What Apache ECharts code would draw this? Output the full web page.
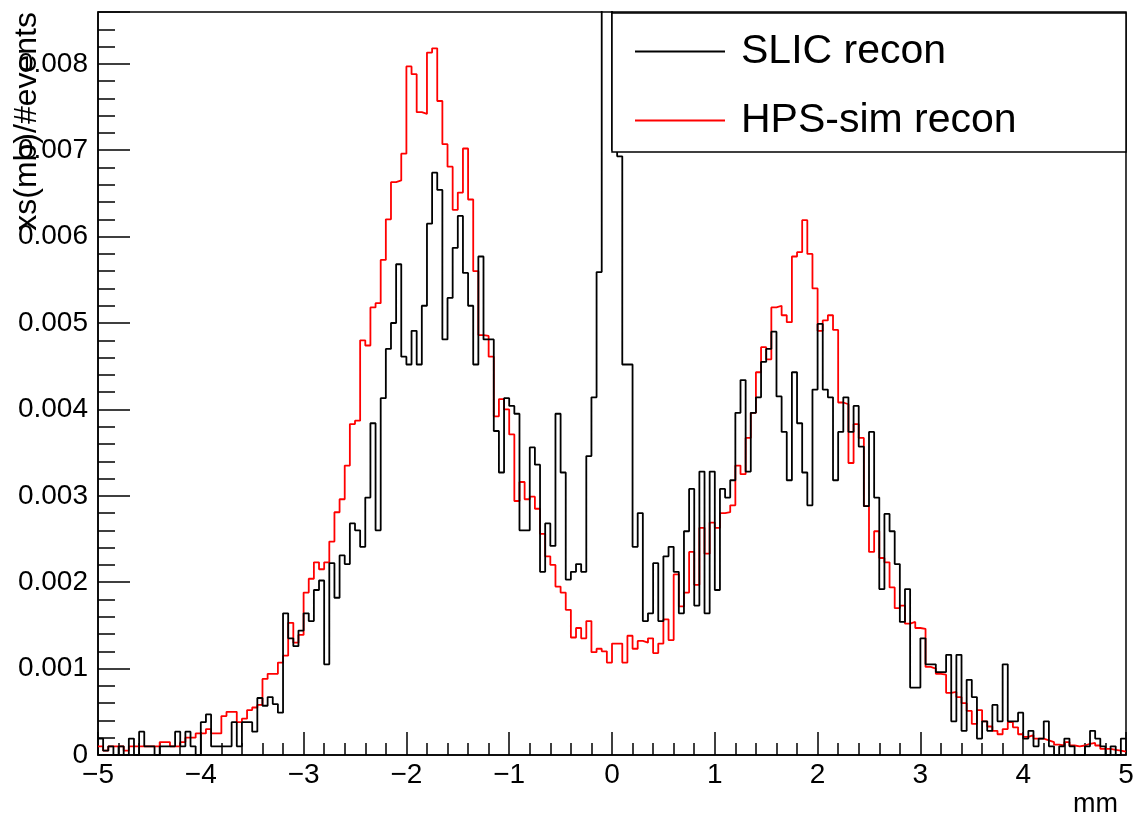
<!DOCTYPE html>
<html><head><meta charset="utf-8">
<script src="https://cdn.jsdelivr.net/npm/echarts@6/dist/echarts.min.js"></script>
<style>html,body{margin:0;padding:0;background:#fff}#c{width:1137px;height:819px}</style>
</head><body><div id="c"></div>
<script>
const seriesNames = ['SLIC recon', 'HPS-sim recon'];
const binStart = -5, binWidth = 0.05, binCount = 200;

const slicRecon = [
0.00019,0.00005,0.00010,0,0.00010,0,0.00019,0,0.00027,0.00010,
0.00010,0,0.00010,0.00010,0.00010,0.00027,0.00010,0.00027,0.00010,0,
0.00038,0.00047,0.00010,0.00010,0.00010,0.00010,0.00038,0.00010,0.00038,0.00038,
0.00027,0.00066,0.00057,0.00067,0.00059,0.00049,0.00164,0.00135,0.00126,0.00144,
0.00164,0.00155,0.00191,0.00202,0.00105,0.00222,0.00182,0.00231,0.00221,0.00268,
0.00260,0.00241,0.00298,0.00384,0.00260,0.00413,0.00470,0.00500,0.00568,0.00461,
0.00452,0.00491,0.00452,0.00520,0.00615,0.00674,0.00654,0.00481,0.00529,0.00587,
0.00624,0.00558,0.00520,0.00452,0.00577,0.00481,0.00481,0.00375,0.00327,0.00413,
0.00404,0.00395,0.00260,0.00260,0.00356,0.00336,0.00212,0.00268,0.00242,0.00395,
0.00327,0.00203,0.00212,0.00221,0.00212,0.00346,0.00414,0.00559,0.01080,0.01150,
0.00700,0.00693,0.00452,0.00452,0.00241,0.00280,0.00155,0.00164,0.00222,0.00155,
0.00230,0.00241,0.00212,0.00164,0.00259,0.00308,0.00173,0.00328,0.00164,0.00328,
0.00191,0.00308,0.00298,0.00318,0.00396,0.00434,0.00328,0.00396,0.00414,0.00455,
0.00470,0.00490,0.00415,0.00374,0.00318,0.00443,0.00384,0.00327,0.00289,0.00423,
0.00499,0.00423,0.00414,0.00318,0.00374,0.00414,0.00374,0.00404,0.00357,0.00288,
0.00374,0.00298,0.00192,0.00279,0.00259,0.00221,0.00154,0.00192,0.00078,0.00078,
0.00135,0.00105,0.00105,0.00096,0.00096,0.00116,0.00039,0.00116,0.00028,0.00087,
0.00067,0.00019,0.00039,0.00028,0.00058,0.00039,0.00105,0.00039,0.00039,0.00049,
0.00019,0.00028,0.00010,0.00019,0.00039,0.00010,0,0.00010,0.00019,0.00010,
0,0,0.00010,0.00028,0.00019,0.00010,0,0.00010,0,0.00019
];

const hpsSimRecon = [
0.00010,0.00005,0.00010,0.00010,0.00010,0.00005,0.00010,0.00010,0.00010,0.00010,
0.00010,0.00010,0.00015,0.00015,0.00010,0.00010,0.00015,0.00020,0.00020,0.00025,
0.00025,0.00030,0.00025,0.00025,0.00045,0.00050,0.00050,0.00038,0.00042,0.00052,
0.00055,0.00058,0.00088,0.00094,0.00094,0.00107,0.00115,0.00153,0.00130,0.00139,
0.00188,0.00204,0.00223,0.00215,0.00223,0.00247,0.00281,0.00296,0.00335,0.00383,
0.00387,0.00480,0.00474,0.00518,0.00523,0.00573,0.00620,0.00663,0.00665,0.00696,
0.00797,0.00788,0.00744,0.00742,0.00813,0.00818,0.00757,0.00707,0.00681,0.00631,
0.00651,0.00702,0.00643,0.00560,0.00486,0.00485,0.00461,0.00392,0.00412,0.00400,
0.00371,0.00294,0.00316,0.00296,0.00299,0.00285,0.00256,0.00230,0.00220,0.00195,
0.00188,0.00168,0.00136,0.00147,0.00135,0.00155,0.00119,0.00123,0.00120,0.00107,
0.00129,0.00129,0.00107,0.00138,0.00123,0.00132,0.00130,0.00135,0.00118,0.00129,
0.00157,0.00133,0.00209,0.00172,0.00188,0.00235,0.00197,0.00263,0.00233,0.00269,
0.00263,0.00280,0.00281,0.00289,0.00335,0.00325,0.00367,0.00396,0.00443,0.00472,
0.00458,0.00518,0.00520,0.00509,0.00501,0.00577,0.00582,0.00619,0.00580,0.00540,
0.00491,0.00503,0.00509,0.00492,0.00408,0.00406,0.00338,0.00383,0.00367,0.00288,
0.00235,0.00259,0.00228,0.00223,0.00194,0.00170,0.00173,0.00152,0.00154,0.00147,
0.00146,0.00102,0.00100,0.00094,0.00093,0.00072,0.00073,0.00067,0.00060,0.00051,
0.00036,0.00052,0.00039,0.00033,0.00028,0.00024,0.00030,0.00038,0.00032,0.00024,
0.00021,0.00023,0.00019,0.00019,0.00017,0.00015,0.00012,0.00011,0.00015,0.00011,
0.00010,0.00011,0.00013,0.00014,0.00011,0.00007,0.00007,0.00006,0.00005,0.00004
];

const xTickValues = [-5,-4,-3,-2,-1,0,1,2,3,4,5];
const xTickLabels = ['\u22125','\u22124','\u22123','\u22122','\u22121','0','1','2','3','4','5'];
const yTickValues = [0,0.001,0.002,0.003,0.004,0.005,0.006,0.007,0.008];
const yTickLabels = ['0','0.001','0.002','0.003','0.004','0.005','0.006','0.007','0.008'];
const yMax = 0.0086;
const xTitle = 'mm';
const yTitle = 'xs(mb)/#events';

const FONT = '"Liberation Sans", Arial, Helvetica, sans-serif';
const binEdges = Array.from({length: binCount + 1}, (_, i) => +(binStart + i * binWidth).toFixed(2));
function stepData(vals) {
  const d = vals.map((v, i) => [binEdges[i], v]);
  d.push([binEdges[binCount], vals[binCount - 1]]);
  return d;
}
function labelFor(values, labels) {
  return function (v) {
    const i = values.findIndex(t => Math.abs(t - v) < 1e-9);
    return i >= 0 ? labels[i] : '';
  };
}

const chart = echarts.init(document.getElementById('c'), null, {renderer: 'canvas'});
const axisColor = '#000';
chart.setOption({
  animation: false,
  backgroundColor: '#fff',
  grid: {left: 98, right: 11, top: 12, bottom: 64, show: true, borderColor: '#000', borderWidth: 1.5, backgroundColor: '#fff'},
  xAxis: {
    type: 'value', min: -5, max: 5, interval: 1,
    axisLine: {show: true, onZero: false, lineStyle: {color: axisColor, width: 1.5}},
    axisTick: {show: true, inside: true, length: 23, lineStyle: {color: axisColor, width: 1.5}},
    minorTick: {show: true, splitNumber: 5, length: 12, lineStyle: {color: axisColor, width: 1.5}},
    splitLine: {show: false}, minorSplitLine: {show: false},
    axisLabel: {fontSize: 28, fontFamily: FONT, color: '#000', margin: 6, formatter: labelFor(xTickValues, xTickLabels)}
  },
  yAxis: {
    type: 'value', min: 0, max: yMax, interval: 0.001,
    axisLine: {show: true, onZero: false, lineStyle: {color: axisColor, width: 1.5}},
    axisTick: {show: true, inside: true, length: 32, lineStyle: {color: axisColor, width: 1.5}},
    minorTick: {show: true, splitNumber: 5, length: 17, lineStyle: {color: axisColor, width: 1.5}},
    splitLine: {show: false}, minorSplitLine: {show: false},
    axisLabel: {fontSize: 28, fontFamily: FONT, color: '#000', margin: 10, showMaxLabel: false, formatter: labelFor(yTickValues, yTickLabels)}
  },
  legend: {
    data: seriesNames, orient: 'vertical', left: 630, top: 26,
    itemWidth: 90, itemHeight: 2, itemGap: 28, icon: 'rect', selectedMode: false,
    textStyle: {fontSize: 41, fontFamily: FONT, color: '#000', padding: [0, 0, 0, 11]},
    z: 110
  },
  graphic: [
    {type: 'rect', z: 100, shape: {x: 612, y: 13, width: 514, height: 139}, style: {fill: '#fff', stroke: '#000', lineWidth: 1.5}},
    {type: 'text', z: 100, x: 27, y: 12, rotation: Math.PI / 2, style: {text: yTitle, font: '32px ' + FONT, align: 'right', verticalAlign: 'middle', fill: '#000'}},
    {type: 'text', z: 100, x: 1118, y: 805, style: {text: xTitle, font: '27px ' + FONT, align: 'right', verticalAlign: 'middle', fill: '#000'}}
  ],
  series: [
    {name: seriesNames[1], type: 'line', step: 'end', data: stepData(hpsSimRecon), showSymbol: false, symbol: 'none', clip: true,
     lineStyle: {color: '#ff0000', width: 1.8}, itemStyle: {color: '#ff0000'}, z: 2},
    {name: seriesNames[0], type: 'line', step: 'end', data: stepData(slicRecon), showSymbol: false, symbol: 'none', clip: true,
     lineStyle: {color: '#000000', width: 1.8}, itemStyle: {color: '#000000'}, z: 3}
  ]
});
</script>
</body></html>
